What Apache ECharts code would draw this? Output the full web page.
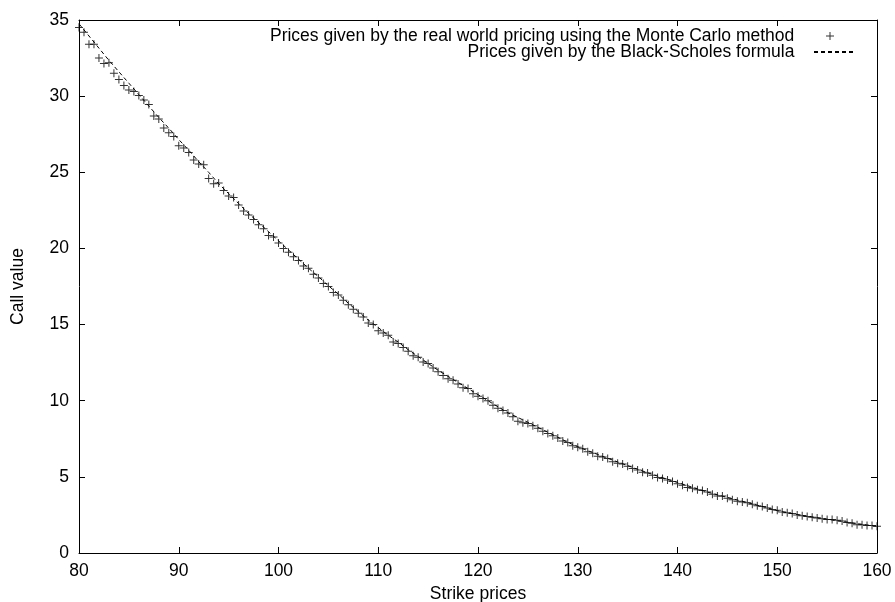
<!DOCTYPE html>
<html>
<head>
<meta charset="utf-8">
<script src="https://cdn.jsdelivr.net/npm/echarts@6/dist/echarts.min.js"></script>
<style>
html,body{margin:0;padding:0;background:#fff;}
#chart{width:895px;height:602px;}
</style>
</head>
<body>
<div id="chart"></div>
<script>
// Monte Carlo prices (strike step 0.5)
var mcStrikes = [80,80.5,81,81.5,82,82.5,83,83.5,84,84.5,85,85.5,86,86.5,87,87.5,88,88.5,89,89.5,
90,90.5,91,91.5,92,92.5,93,93.5,94,94.5,95,95.5,96,96.5,97,97.5,98,98.5,99,99.5,
100,100.5,101,101.5,102,102.5,103,103.5,104,104.5,105,105.5,106,106.5,107,107.5,108,108.5,109,109.5,
110,110.5,111,111.5,112,112.5,113,113.5,114,114.5,115,115.5,116,116.5,117,117.5,118,118.5,119,119.5,
120,120.5,121,121.5,122,122.5,123,123.5,124,124.5,125,125.5,126,126.5,127,127.5,128,128.5,129,129.5,
130,130.5,131,131.5,132,132.5,133,133.5,134,134.5,135,135.5,136,136.5,137,137.5,138,138.5,139,139.5,
140,140.5,141,141.5,142,142.5,143,143.5,144,144.5,145,145.5,146,146.5,147,147.5,148,148.5,149,149.5,
150,150.5,151,151.5,152,152.5,153,153.5,154,154.5,155,155.5,156,156.5,157,157.5,158,158.5,159,159.5,160];
var mcPrices = [34.5,34.2,33.4,33.4,32.5,32.15,32.2,31.5,31.1,30.7,30.4,30.3,30.05,29.75,29.45,28.7,28.5,27.9,27.6,27.35,
26.75,26.6,26.3,25.8,25.55,25.5,24.6,24.25,24.3,23.8,23.45,23.35,22.85,22.45,22.2,21.9,21.55,21.3,20.85,20.75,
20.35,20.0,19.75,19.45,19.2,18.85,18.7,18.3,18.05,17.7,17.5,17.1,16.95,16.6,16.3,16.0,15.75,15.5,15.1,15.0,
14.6,14.45,14.3,13.85,13.75,13.5,13.25,12.95,12.85,12.55,12.45,12.15,11.9,11.65,11.45,11.35,11.1,10.85,10.8,10.45,
10.3,10.15,10.0,9.7,9.5,9.35,9.2,8.95,8.65,8.55,8.5,8.35,8.2,8.0,7.85,7.7,7.55,7.35,7.25,7.05,
6.95,6.85,6.65,6.55,6.35,6.3,6.2,6.0,5.9,5.85,5.7,5.55,5.45,5.3,5.25,5.1,4.95,4.9,4.8,4.7,
4.55,4.45,4.3,4.25,4.15,4.1,4.0,3.85,3.75,3.75,3.6,3.5,3.4,3.35,3.3,3.2,3.1,3.05,2.95,2.85,
2.8,2.7,2.65,2.6,2.5,2.45,2.4,2.35,2.3,2.25,2.2,2.2,2.15,2.1,2.0,1.95,1.85,1.85,1.8,1.8,1.75];

// Black-Scholes prices (strike step 1)
var bsStrikes = [80,81,82,83,84,85,86,87,88,89,90,91,92,93,94,95,96,97,98,99,
100,101,102,103,104,105,106,107,108,109,110,111,112,113,114,115,116,117,118,119,
120,121,122,123,124,125,126,127,128,129,130,131,132,133,134,135,136,137,138,139,
140,141,142,143,144,145,146,147,148,149,150,151,152,153,154,155,156,157,158,159,160];
var bsPrices = [34.75,33.95,33.15,32.35,31.6,30.85,30.1,29.35,28.6,27.9,27.15,26.45,25.7,25.0,24.25,23.6,22.95,22.3,21.7,21.1,
20.5,19.9,19.3,18.7,18.15,17.55,17.0,16.4,15.85,15.3,14.8,14.3,13.85,13.35,12.9,12.45,12.0,11.6,11.2,10.8,
10.4,10.0,9.6,9.2,8.9,8.58,8.25,7.93,7.6,7.27,6.98,6.72,6.47,6.22,5.98,5.74,5.5,5.27,5.05,4.84,
4.63,4.42,4.21,4.0,3.82,3.65,3.48,3.31,3.14,2.97,2.78,2.64,2.53,2.42,2.32,2.22,2.12,2.03,1.93,1.84,1.75];

var xTicks = [80,90,100,110,120,130,140,150,160];
var yTicks = [0,5,10,15,20,25,30,35];

var mcName = 'Prices given by the real world pricing using the Monte Carlo method';
var bsName = 'Prices given by the Black-Scholes formula';
var xName = 'Strike prices';
var yName = 'Call value';

var FONT = 'Liberation Sans, Arial, Helvetica, sans-serif';
var FS = 17.5;
var plus = 'path://M3.5,0H4.5V3.5H8V4.5H4.5V8H3.5V4.5H0V3.5H3.5Z';

var mcData = mcStrikes.map(function(k,i){return [k, mcPrices[i]];});
var bsData = bsStrikes.map(function(k,i){return [k, bsPrices[i]];});

var chart = echarts.init(document.getElementById('chart'), null, {renderer:'canvas'});

function xAxisBase(pos, showLabel, name){
  return {
    type:'value', position:pos, min:80, max:160, interval:10,
    name: name || '', nameLocation:'middle', nameGap:31,
    nameTextStyle:{fontFamily:FONT, fontSize:FS, color:'#000'},
    axisLine:{show:true, onZero:false, lineStyle:{color:'#000', width:1}},
    axisTick:{show:true, inside:true, length:6, lineStyle:{color:'#000'}},
    axisLabel:{show:showLabel, margin:9, fontFamily:FONT, fontSize:FS, color:'#000',
      formatter:function(v){return xTicks.indexOf(v)>=0 ? String(v) : '';}},
    splitLine:{show:false}
  };
}
function yAxisBase(pos, showLabel, name){
  return {
    type:'value', position:pos, min:0, max:35, interval:5,
    name: name || '', nameLocation:'middle', nameGap:52, nameRotate:90,
    nameTextStyle:{fontFamily:FONT, fontSize:FS, color:'#000'},
    axisLine:{show:true, onZero:false, lineStyle:{color:'#000', width:1}},
    axisTick:{show:true, inside:true, length:6, lineStyle:{color:'#000'}},
    axisLabel:{show:showLabel, margin:10, fontFamily:FONT, fontSize:FS, color:'#000',
      formatter:function(v){return yTicks.indexOf(v)>=0 ? String(v) : '';}},
    splitLine:{show:false}
  };
}

var option = {
  backgroundColor:'#fff',
  animation:false,
  grid:{left:79, right:18, top:20, bottom:49, containLabel:false, outerBoundsMode:'none'},
  xAxis:[xAxisBase('bottom', true, xName), xAxisBase('top', false)],
  yAxis:[yAxisBase('left', true, yName), yAxisBase('right', false)],
  legend:[
    {data:[mcName], right:61, top:27, orient:'horizontal', align:'right', padding:0,
     itemWidth:42, itemHeight:8, icon: plus,
     formatter:function(n){return n + '\u00a0\u00a0';},
     textStyle:{fontFamily:FONT, fontSize:FS, color:'#000'}},
    {data:[bsName], right:38, top:43, orient:'horizontal', align:'right', padding:0,
     itemWidth:42, itemHeight:8, itemStyle:{opacity:0},
     formatter:function(n){return n + '\u00a0\u00a0\u00a0';},
     textStyle:{fontFamily:FONT, fontSize:FS, color:'#000'}}
  ],
  series:[
    {name:mcName, type:'scatter', data:mcData, symbol:plus, symbolSize:8,
     itemStyle:{color:'#000'}, z:3},
    {name:bsName, type:'line', data:bsData, showSymbol:false, symbol:'none',
     lineStyle:{color:'#000', width:1, type:[4,3]}, itemStyle:{color:'#000'}, z:2}
  ]
};
chart.setOption(option);
</script>
</body>
</html>
